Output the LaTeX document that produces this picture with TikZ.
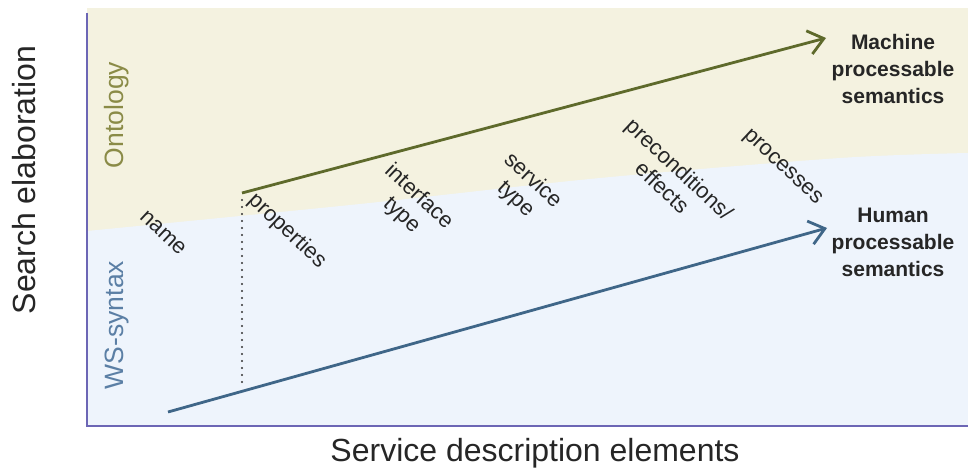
\documentclass[tikz,border=0pt]{standalone}
\usepackage{fontspec}
\setmainfont{Liberation Sans}
\usetikzlibrary{arrows.meta}
\definecolor{beigebg}{HTML}{F4F2E0}
\definecolor{bluebg}{HTML}{EEF4FC}
\definecolor{olivearrow}{HTML}{5E6A2B}
\definecolor{olivetext}{HTML}{8A8B47}
\definecolor{bluearrow}{HTML}{3F6688}
\definecolor{bluetext}{HTML}{5B7FA5}
\definecolor{axiscol}{HTML}{6C66B5}
\definecolor{labeltext}{HTML}{262626}
\tikzset{
  elem/.style={rotate=-43, align=center, text=labeltext, inner sep=0pt,
    font=\fontsize{22}{25}\selectfont},
  goal/.style={align=center, text=labeltext, inner sep=0pt,
    font=\fontsize{21}{27}\selectfont\bfseries},
  layer/.style={rotate=90, inner sep=0pt, font=\fontsize{26.5}{30}\selectfont},
  axistitle/.style={inner sep=0pt, text=labeltext, font=\fontsize{32}{36}\selectfont},
  trend/.style={line width=2.8pt, -{Straight Barb[length=15pt,width=24pt]}},
  axisline/.style={draw=axiscol, line width=2.4pt},
  dotline/.style={line width=2.4pt, line cap=round, dash pattern=on 0pt off 7pt, black!80}
}
\begin{document}
\begin{tikzpicture}[x=1pt,y=-1pt]
\useasboundingbox (0,0) rectangle (968,470);
% backgrounds
\fill[beigebg] (87,8) rectangle (968,426);
\fill[bluebg] plot[smooth] coordinates {(87,231) (360,204) (600,178) (840,158) (968,153)} -- (968,426) -- (87,426) -- cycle;
% axes
\coordinate (otop) at (87,13);
\coordinate (orig) at (87,426);
\coordinate (xend) at (968,426);
\draw[axisline] (otop) -- (orig) -- (xend);
% axis titles
\node[axistitle, rotate=90] (ytitle) at (24,180) {Search elaboration};
\node[axistitle, anchor=base] (xtitle) at (535,461) {Service description elements};
% layer labels
\node[layer, text=olivetext] (onto) at (117,115) {Ontology};
\node[layer, text=bluetext] (wss) at (117,325) {WS-syntax};
% goals
\node[goal] (mach) at (893,69) {Machine\\processable\\semantics};
\node[goal] (human) at (893,242) {Human\\processable\\semantics};
% trend arrows
\coordinate (gs) at (242,193);
\coordinate (ge) at (826,38);
\coordinate (bs) at (168,412);
\coordinate (be) at (827,228);
\coordinate (dotstart) at (242,200);
\coordinate (dotend) at (242,386);
\draw[dotline] (dotstart) -- (dotend);
\draw[trend, olivearrow] (gs) -- (ge);
\draw[trend, bluearrow] (bs) -- (be);
% element labels
\node[elem] (name) at (163,233) {name};
\node[elem] (props) at (287,231) {properties};
\node[elem] (iface) at (410,206) {interface\\type};
\node[elem] (stype) at (524,190) {service\\type};
\node[elem] (precond) at (671,178) {preconditions/\\effects};
\node[elem] (procs) at (782,168) {processes};
\end{tikzpicture}
\end{document}
